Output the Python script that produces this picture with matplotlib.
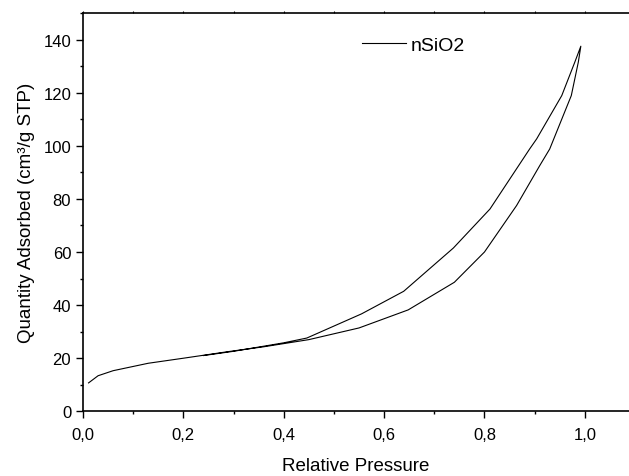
import matplotlib
matplotlib.use("Agg")
import matplotlib.pyplot as plt
from matplotlib.ticker import FuncFormatter, MultipleLocator

plt.rcParams['font.family'] = ['Liberation Sans', 'DejaVu Sans']

# Adsorption branch (lower)
ads_x = [0.011, 0.03, 0.06, 0.13, 0.20, 0.29, 0.36, 0.40, 0.45, 0.55, 0.648, 0.74,
         0.80, 0.864, 0.91, 0.93, 0.973, 0.987, 0.992]
ads_y = [10.7, 13.4, 15.3, 18.1, 20.0, 22.5, 24.3, 25.5, 27.0, 31.4, 38.2, 48.6,
         60.0, 77.5, 92.5, 98.8, 118.9, 131.5, 137.5]

# Desorption branch (upper)
des_x = [0.992, 0.98, 0.954, 0.904, 0.89, 0.811, 0.738, 0.639,
         0.555, 0.446, 0.40, 0.30, 0.24]
des_y = [137.5, 131.5, 118.9, 102.6, 98.8, 76.2, 61.5, 45.2,
         36.7, 27.6, 25.8, 22.6, 21.0]

fig = plt.figure(figsize=(6.29, 4.77), dpi=100)
ax = fig.add_axes([0.132, 0.1356, 0.868, 0.835])

ax.plot(ads_x + des_x, ads_y + des_y, color='black', linewidth=0.8, label='nSiO2')

ax.set_xlim(0, 1.088)
ax.set_ylim(0, 150)
ax.xaxis.set_major_locator(MultipleLocator(0.2))
ax.xaxis.set_minor_locator(MultipleLocator(0.1))
ax.yaxis.set_major_locator(MultipleLocator(20))
ax.yaxis.set_minor_locator(MultipleLocator(10))
ax.xaxis.set_major_formatter(FuncFormatter(lambda v, _: f'{v:.1f}'.replace('.', ',')))

ax.tick_params(which='major', direction='out', length=5, width=1, labelsize=12)
ax.tick_params(axis='x', which='major', pad=6)
ax.tick_params(which='minor', direction='out', length=2.5, width=1)

ax.spines['right'].set_visible(False)
for s in ['left', 'bottom', 'top']:
    ax.spines[s].set_linewidth(1.2)

top = ax.secondary_xaxis('top')
top.xaxis.set_major_locator(MultipleLocator(0.1))
top.tick_params(direction='out', length=1.5, width=0.8, labeltop=False)
top.spines['top'].set_visible(False)

ax.set_xlabel('Relative Pressure', fontsize=13.5, labelpad=11)
ax.set_ylabel('Quantity Adsorbed (cm³/g STP)', fontsize=13.5, labelpad=6)

ax.legend(loc='upper left', bbox_to_anchor=(0.478, 0.985), frameon=False, fontsize=14,
          handlelength=2.3, handletextpad=0.25)

fig.savefig('out.png', dpi=100)
